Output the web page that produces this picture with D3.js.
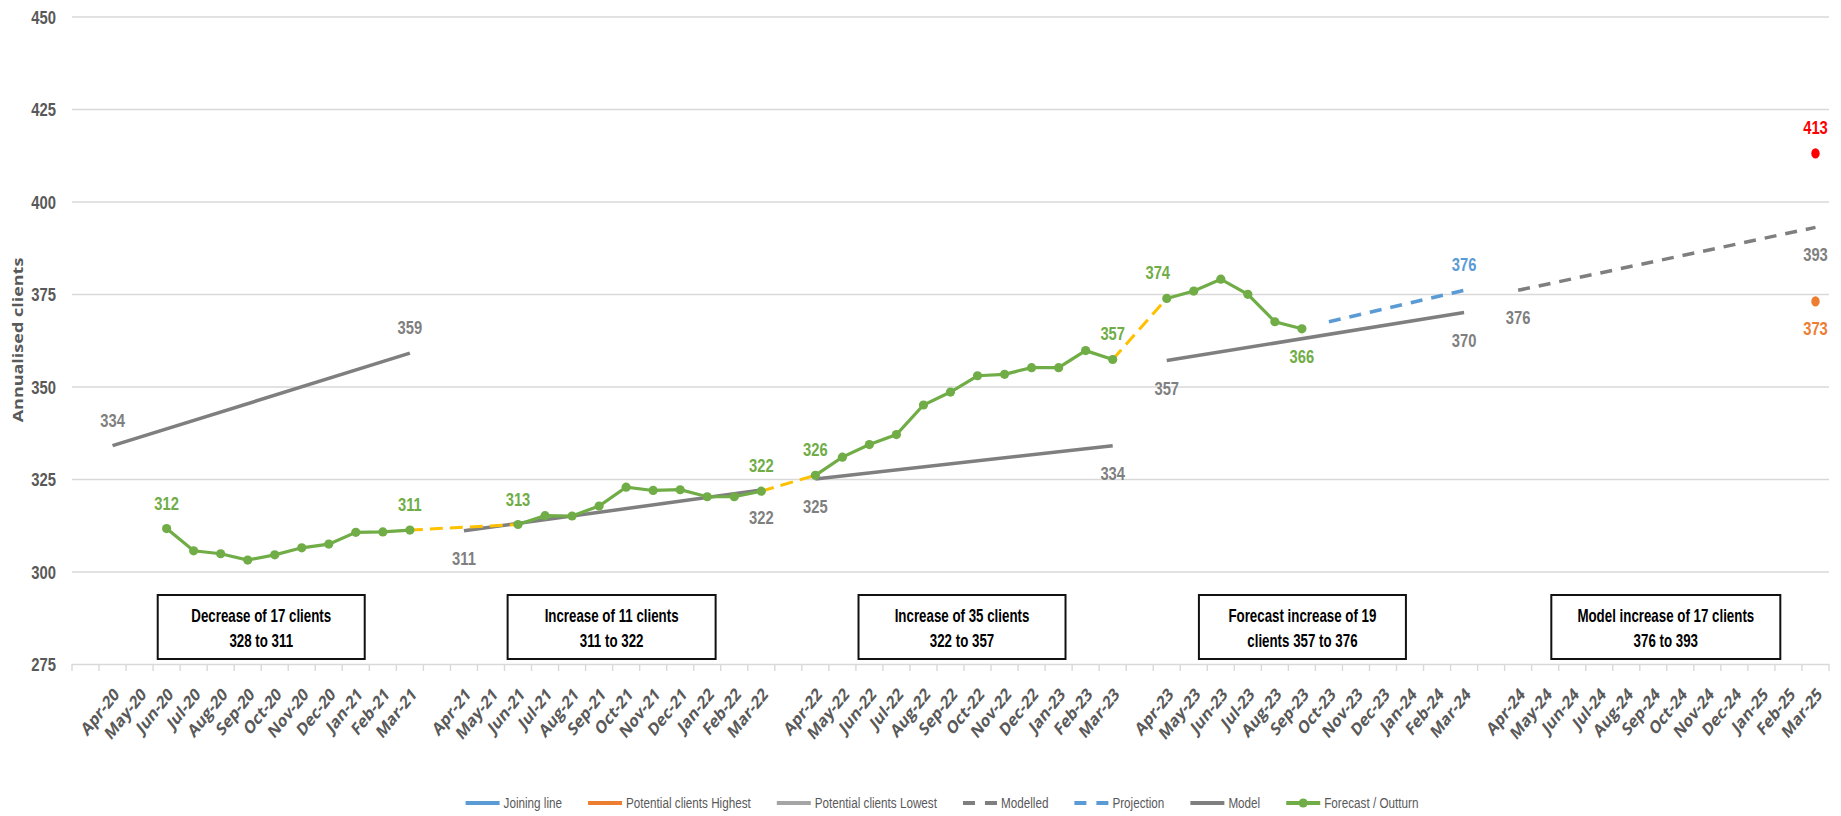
<!DOCTYPE html>
<html><head><meta charset="utf-8">
<script src="https://cdn.jsdelivr.net/npm/d3@7"></script>
<style>body{margin:0;background:#fff}svg{display:block}</style>
</head><body>
<svg id="chart" width="1841" height="816"></svg>
<script>
// ---------- DATA ----------
const categories = ["",
 "Apr-20","May-20","Jun-20","Jul-20","Aug-20","Sep-20","Oct-20","Nov-20","Dec-20","Jan-21","Feb-21","Mar-21","",
 "Apr-21","May-21","Jun-21","Jul-21","Aug-21","Sep-21","Oct-21","Nov-21","Dec-21","Jan-22","Feb-22","Mar-22","",
 "Apr-22","May-22","Jun-22","Jul-22","Aug-22","Sep-22","Oct-22","Nov-22","Dec-22","Jan-23","Feb-23","Mar-23","",
 "Apr-23","May-23","Jun-23","Jul-23","Aug-23","Sep-23","Oct-23","Nov-23","Dec-23","Jan-24","Feb-24","Mar-24","",
 "Apr-24","May-24","Jun-24","Jul-24","Aug-24","Sep-24","Oct-24","Nov-24","Dec-24","Jan-25","Feb-25","Mar-25"];
const yTicks = [275,300,325,350,375,400,425,450];

const outturnMonths = ["Jun-20","Jul-20","Aug-20","Sep-20","Oct-20","Nov-20","Dec-20","Jan-21","Feb-21","Mar-21",
 "Jun-21","Jul-21","Aug-21","Sep-21","Oct-21","Nov-21","Dec-21","Jan-22","Feb-22","Mar-22",
 "Apr-22","May-22","Jun-22","Jul-22","Aug-22","Sep-22","Oct-22","Nov-22","Dec-22","Jan-23","Feb-23","Mar-23",
 "Apr-23","May-23","Jun-23","Jul-23","Aug-23","Sep-23"];
const outturnValues = [311.6,305.6,304.8,303.1,304.5,306.4,307.4,310.6,310.7,311.2,
 312.7,315.1,315.0,317.7,322.8,321.9,322.1,320.2,320.2,321.7,
 326.0,330.9,334.3,337.0,345.0,348.5,352.9,353.3,355.1,355.1,359.7,357.3,
 373.8,375.8,379.0,374.9,367.5,365.6];

const joiningSegments = [[["Mar-21",311.2],["Jun-21",312.7]],[["Mar-22",321.7],["Apr-22",326.0]],[["Mar-23",357.3],["Apr-23",373.8]]];
const modelSegments = [[["Apr-20",334],["Mar-21",359]],[["Apr-21",311],["Mar-22",322]],[["Apr-22",325],["Mar-23",334]],[["Apr-23",357],["Mar-24",370]]];
const projection = [["Oct-23",367.5],["Mar-24",376]];
const modelled = [["Apr-24",376],["Mar-25",393]];
const potentialHighest = [["Mar-25",413]];
const potentialLowest = [["Mar-25",373]];

const outturnLabelMonths = ["Jun-20","Mar-21","Jun-21","Mar-22","Apr-22","Mar-23","Apr-23","Sep-23"];

const boxTexts = [["Decrease of 17 clients","328 to 311"],["Increase of 11 clients","311 to 322"],
 ["Increase of 35 clients","322 to 357"],["Forecast increase of 19","clients 357 to 376"],
 ["Model increase of 17 clients","376 to 393"]];
const legendNames = ["Joining line","Potential clients Highest","Potential clients Lowest","Modelled","Projection","Model","Forecast / Outturn"];

// ---------- LAYOUT / STYLE ----------
const SQ = 0.82;
const plot = {left:72,right:1829,top:16.5,bottom:664};
const C = {green:"#70AD47",yellow:"#FFC000",blue:"#5B9BD5",gray:"#7F7F7F",orange:"#ED7D31",red:"#FF0000",lgray:"#A5A5A5",text:"#595959",grid:"#D9D9D9"};
const NARROW = "'Liberation Sans', Arial, sans-serif";

const svg = d3.select("#chart");
const x = d3.scaleBand().domain(d3.range(categories.length)).range([plot.left,plot.right]);
const y = d3.scaleLinear().domain([275,450]).range([plot.bottom,plot.top]);
const cx = m => x(categories.indexOf(m)) + x.bandwidth()/2;
const line = d3.line().x(d=>cx(d[0])).y(d=>y(d[1]));

// y axis + grid
const yg = svg.append("g").attr("transform",`translate(${plot.left},0)`)
 .call(d3.axisLeft(y).tickValues(yTicks).tickSize(-(plot.right-plot.left)).tickPadding(16));
yg.select(".domain").remove();
yg.selectAll(".tick line").attr("stroke",C.grid).attr("stroke-width",1.4);
yg.selectAll(".tick text").attr("x",null).attr("dy",null)
 .attr("transform","translate(-16,6.5) scale(0.8,1)")
 .attr("text-anchor","end").attr("fill",C.text)
 .style("font-family",NARROW).style("font-size","18.5px").style("font-weight","bold");

// x axis labels
const xg = svg.append("g").attr("transform",`translate(0,${plot.bottom})`)
 .call(d3.axisBottom(x).tickFormat(i=>categories[i]).tickSize(0));
xg.select(".domain").remove();
xg.selectAll(".tick text").attr("y",null).attr("dy","0.35em")
 .attr("transform","translate(4,27) scale(0.8,1) rotate(-45)")
 .attr("text-anchor","end").attr("fill",C.text)
 .style("font-family","'Open Sans', sans-serif").style("font-size","18px").style("font-weight","700");
// boundary tick marks
svg.append("g").selectAll("line").data(d3.range(categories.length+1)).join("line")
 .attr("x1",i=>i<categories.length?x(i):plot.right).attr("x2",i=>i<categories.length?x(i):plot.right)
 .attr("y1",plot.bottom).attr("y2",plot.bottom+7).attr("stroke",C.grid).attr("stroke-width",1.4);

// y title
svg.append("text").text("Annualised clients")
 .attr("transform","translate(23,340) scale(0.81,1) rotate(-90)")
 .attr("text-anchor","middle").attr("fill",C.text)
 .style("font-family","'Open Sans', sans-serif").style("font-size","18px").style("font-weight","bold");

// outturn segments
const outturn = outturnMonths.map((m,i)=>[m,outturnValues[i]]);
const outSegs = [];
outturn.forEach((d,i)=>{
  if(i===0 || categories.indexOf(d[0]) - categories.indexOf(outturn[i-1][0]) > 1) outSegs.push([]);
  outSegs[outSegs.length-1].push(d);
});

// model lines
svg.append("g").selectAll("path").data(modelSegments).join("path")
 .attr("d",line).attr("fill","none").attr("stroke",C.gray).attr("stroke-width",3.5);
// modelled dashed
svg.append("path").datum(modelled).attr("d",line).attr("fill","none")
 .attr("stroke",C.gray).attr("stroke-width",3.5).attr("stroke-dasharray","12,9");
// projection dashed
svg.append("path").datum(projection).attr("d",line).attr("fill","none")
 .attr("stroke",C.blue).attr("stroke-width",3.5).attr("stroke-dasharray","12,9");
// joining
svg.append("g").selectAll("path").data(joiningSegments).join("path")
 .attr("d",line).attr("fill","none").attr("stroke",C.yellow).attr("stroke-width",3).attr("stroke-dasharray","13,7");
// outturn
svg.append("g").selectAll("path").data(outSegs).join("path")
 .attr("d",line).attr("fill","none").attr("stroke",C.green).attr("stroke-width",3.2);
svg.append("g").selectAll("circle").data(outturn).join("circle")
 .attr("cx",d=>cx(d[0])).attr("cy",d=>y(d[1])).attr("r",4.6).attr("fill",C.green);
// potential points
svg.append("g").selectAll("ellipse").data(potentialHighest).join("ellipse")
 .attr("cx",d=>cx(d[0])).attr("cy",d=>y(d[1])).attr("rx",4.2).attr("ry",5.2).attr("fill",C.red);
svg.append("g").selectAll("ellipse").data(potentialLowest).join("ellipse")
 .attr("cx",d=>cx(d[0])).attr("cy",d=>y(d[1])).attr("rx",4.2).attr("ry",5.2).attr("fill",C.orange);

// data labels
const fmt = d3.format(".0f");
function label(d, color, above, dx=0){
  const px = cx(d[0]) + dx, py = y(d[1]) + (above ? -19 : 34);
  svg.append("text").text(fmt(d[1]))
   .attr("transform",`translate(${px},${py}) scale(${SQ},1)`)
   .attr("text-anchor","middle").attr("fill",color)
   .style("font-family",NARROW).style("font-size","18px").style("font-weight","bold");
}
outturnLabelMonths.forEach(m=>{
  const d = outturn.find(o=>o[0]===m);
  label(d, C.green, m!=="Sep-23", m==="Apr-23"?-9:0);
});
modelSegments.forEach((seg,i)=>seg.forEach(d=>label(d,C.gray,i===0)));
label(projection[1], C.blue, true);
modelled.forEach(d=>label(d,C.gray,false));
label(potentialHighest[0], C.red, true);
label(potentialLowest[0], C.orange, false);

// annotation boxes (centred on each financial year)
const yearStarts = ["Apr-20","Apr-21","Apr-22","Apr-23","Apr-24"];
const boxWidths = [207,208,207,207,229];
const boxShift = [0,-1,-2,-13,-1];
boxTexts.forEach((t,i)=>{
  const i0 = categories.indexOf(yearStarts[i]);
  const c = (x(i0) + x(i0+11) + x.bandwidth())/2 + boxShift[i];
  const g = svg.append("g");
  g.append("rect").attr("x",c-boxWidths[i]/2).attr("y",595).attr("width",boxWidths[i]).attr("height",64)
   .attr("fill","#fff").attr("stroke","#111").attr("stroke-width",2);
  t.forEach((s,j)=>g.append("text").text(s)
   .attr("transform",`translate(${c},${622+j*25}) scale(0.74,1)`)
   .attr("text-anchor","middle").attr("fill","#000")
   .style("font-family",NARROW).style("font-size","18px").style("font-weight","bold"));
});

// legend
const legendStyles = [
 {c:C.blue},{c:C.orange},{c:C.lgray},{c:C.gray,dash:"12,10"},{c:C.blue,dash:"12,10"},{c:C.gray},{c:C.green,marker:true}];
const lg = svg.append("g");
let lx = 0; const items = [];
legendNames.forEach((n,i)=>{
  const g = lg.append("g");
  const st = legendStyles[i];
  g.append("line").attr("x1",0).attr("x2",34).attr("y1",0).attr("y2",0)
   .attr("stroke",st.c).attr("stroke-width",4).attr("stroke-dasharray",st.dash||null);
  if(st.marker) g.append("circle").attr("cx",17).attr("cy",0).attr("r",4.6).attr("fill",st.c);
  const t = g.append("text").text(n).attr("transform",`translate(38,5) scale(0.78,1)`)
   .attr("fill",C.text).style("font-family",NARROW).style("font-size","15px");
  const w = 38 + t.node().getComputedTextLength()*0.78;
  items.push({g,x:lx}); lx += w + 26;
});
const totalW = lx - 26, lstart = 942 - totalW/2;
items.forEach(it=>it.g.attr("transform",`translate(${lstart+it.x},803)`));
</script>
</body></html>
